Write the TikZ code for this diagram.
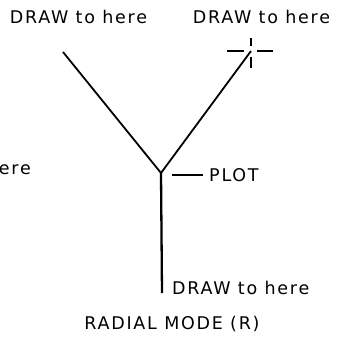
\documentclass[tikz,border=0pt]{standalone}
\usepackage{fontspec}
\newfontfamily\lblfont[LetterSpace=10]{DejaVu Sans}
\usetikzlibrary{positioning}
\tikzset{
  every picture/.style={draw=black, text=black},
  lbl/.style={font=\lblfont\fontsize{17.5}{20}\selectfont, inner sep=0pt},
  arm/.style={line width=1.8pt},
  tick/.style={line width=1.1pt},
}

\begin{document}
\begin{tikzpicture}[x=1pt, y=-1pt]
\useasboundingbox (0,0) rectangle (340,349);

%% Y junction
\coordinate (plot) at (161,173);
\coordinate (lefttop) at (63,52);
\coordinate (cross) at (251,51);
\coordinate (bottom) at (162,293);

\draw[arm] (lefttop) -- (plot) -- (cross);
\draw[line width=2.3pt] (plot) -- (bottom);

% Cross-hair at the right end
\draw[tick] (cross) ++(-24,0) -- ++(17,0)
  (cross) ++(6,0) -- ++(16,0)
  (cross) ++(0,-13) -- ++(0,8)
  (cross) ++(0,6) -- ++(0,11);

%% Labels
\node[lbl] (ltop) at (78.5,17) {DRAW to here};
\node[lbl] (rtop) at (261.5,17) {DRAW to here};
\node[lbl, anchor=east] (lside) at (31,170) {ere};
\node[lbl, anchor=west] (plotlbl) at (209,175) {PLOT};
\node[lbl, anchor=west] (bot) at (172,288) {DRAW to here};
\node[lbl] (title) at (172,324) {RADIAL MODE (R)};

\draw[tick] ([xshift=-6pt]plotlbl.west) -- ++(-31,0);

\end{tikzpicture}
\end{document}
